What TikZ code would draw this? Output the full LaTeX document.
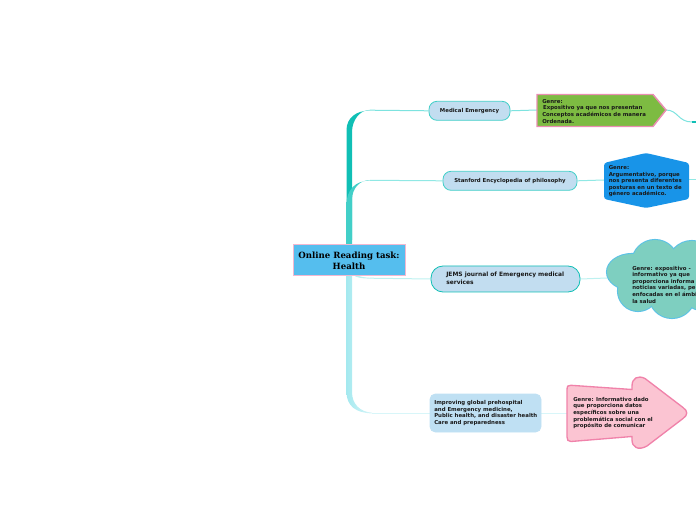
\documentclass[tikz,border=0pt]{standalone}
\usepackage{fontspec}
\setsansfont{DejaVu Sans}
\setmainfont{DejaVu Serif}
\usetikzlibrary{backgrounds,calc}
\tikzset{
  x=0.75pt,y=-0.75pt,
  txt/.style={font=\sffamily\bfseries\fontsize{4.05}{4.95}\selectfont,align=left,anchor=west,inner sep=0,text=black!90},
  txtb/.style={font=\sffamily\bfseries\fontsize{4.45}{6.4}\selectfont,align=left,anchor=west,inner sep=0,text=black!90},
  topic/.style={rounded corners=6pt,draw,line width=.6pt,fill=capfill,minimum height=14.25pt,inner sep=0,font=\sffamily\bfseries\fontsize{4.05}{5.25}\selectfont,text=black!90},
  link/.style={line width=.75pt},
}
\definecolor{capfill}{HTML}{C2DDF0}
\definecolor{impfill}{HTML}{BFE0F3}
\definecolor{rootfill}{HTML}{55BEEE}
\definecolor{rootline}{HTML}{F2B8D0}
\definecolor{tealA}{HTML}{10BFB5}
\definecolor{tealB}{HTML}{42CFC8}
\definecolor{tealC}{HTML}{A5E9EF}
\definecolor{lineA}{HTML}{7DE3DF}
\definecolor{lineB}{HTML}{90E8E4}
\definecolor{lineC}{HTML}{BDF1F0}
\definecolor{lineD}{HTML}{D8F6F9}
\definecolor{cloudfill}{HTML}{7ECFC0}
\definecolor{cloudline}{HTML}{5CC2E6}
\definecolor{greenfill}{HTML}{7DBB42}
\definecolor{greenline}{HTML}{EA8DB2}
\definecolor{hexfill}{HTML}{1894E8}
\definecolor{pinkfill}{HTML}{FBC4D2}
\definecolor{pinkline}{HTML}{F082AA}
\begin{document}
\begin{tikzpicture}
\useasboundingbox (0,0) rectangle (696,520);
% topic and root nodes
\node[draw=rootline,fill=rootfill,line width=.75pt,minimum width=84pt,minimum height=23.25pt,inner sep=0,align=center,font=\rmfamily\bfseries\fontsize{6.45}{8.4}\selectfont] (root) at (349,260.5) {Online Reading task:\\Health};
\node[topic,draw=tealB,minimum width=60.75pt] (med) at (469.5,110.8) {Medical Emergency};
\node[topic,draw=tealB,minimum width=100.5pt] (sta) at (510,180.8) {Stanford Encyclopedia of philosophy};
\node[topic,draw=tealA,rounded corners=9pt,minimum width=111.75pt,minimum height=19.5pt] (jems) at (505.5,279) {};
\node[txtb] (jemst) at (446,278.5) {JEMS journal of Emergency medical\\services};
\node[topic,draw=impfill,fill=impfill,rounded corners=4pt,minimum width=83.25pt,minimum height=28.5pt] (imp) at (485.5,413) {};
\node[txt] (impt) at (434,413) {Improving global prehospital\\and Emergency medicine,\\Public health, and disaster health\\Care and preparedness};
% genre anchors
\coordinate (gW) at (537,110); \coordinate (gE) at (666,110);
\coordinate (hW) at (604,180); \coordinate (hE) at (689,180);
\coordinate (cW) at (607,278);
\coordinate (aW) at (567,413);
\coordinate (edgeA) at (696,122); \coordinate (edgeB) at (696,180);
% green pentagon
\draw[draw=greenline,fill=greenfill,line width=1.1pt,line join=miter]
  (537,94.5) -- (653,94.5) -- (gE) -- (653,126.5) -- (537,126.5) -- cycle;
\node[txt] (gt) at (542,111.3) {Genre:\\ \,Expositivo ya que nos presentan\\Conceptos académicos de manera\\Ordenada.};
% blue hexagon
\draw[draw=none,fill=hexfill,line join=round,rounded corners=2pt]
  (604,163) -- (646,153) -- (689,163) -- (689,199) -- (646,208) -- (604,199) -- cycle;
\node[txt] (ht) at (608.5,181.3) {Genre:\\Argumentativo, porque\\nos presenta diferentes\\posturas en un texto de\\género académico.};
% cloud
\foreach \x/\y/\a/\b in {632/272/25/18,638/291/20/20,655/263/23/23,692/265/24/24,672/295/23/23,702/290/20/20}{\fill[cloudline] (\x,\y) ellipse[x radius=\a*0.75pt+0.8pt,y radius=\b*0.75pt+0.8pt];}
\foreach \x/\y/\a/\b in {632/272/25/18,638/291/20/20,655/263/23/23,692/265/24/24,672/295/23/23,702/290/20/20}{\fill[cloudfill] (\x,\y) ellipse[x radius=\a*0.75pt,y radius=\b*0.75pt];}
\fill[cloudfill] (630,260) rectangle (696,300);
\node[txt] (ct) at (632,284.5) {Genre: expositivo -\\informativo ya que\\proporciona informa\\noticias variadas, pe\\enfocadas en el ámbi\\la salud};
% pink arrow
\draw[draw=pinkline,fill=pinkfill,line width=1pt]
  (567,390) .. controls (567,386) and (568,385) .. (571,385.3) -- (632,389.5) -- (632,386)
  .. controls (632,378) and (638,375) .. (645,378.5) -- (683,407.5)
  .. controls (688,411) and (688,415) .. (683,418.5) -- (647,446)
  .. controls (638,451) and (632,447) .. (632,440) -- (632,436.5) -- (571,441.5)
  .. controls (568,441.5) and (567,440) .. (567,437) -- cycle;
\node[txt] (at) at (573,413) {Genre: Informativo dado\\que proporciona datos\\específicos sobre una\\problemática social con el\\propósito de comunicar};
\begin{scope}[on background layer]
  % tapered branches from the root
  \shade[left color=tealC,right color=lineD] (346.5,276) -- (346.5,392) .. controls (346.5,406) and (356,413) .. (372,413.4) -- (372,412.6) .. controls (360,412) and (352,404) .. (352,392) -- (352,276) -- cycle;
  \fill[lineC] (353,275) .. controls (357,278) and (362,278.4) .. (370,278.6) -- (370,277.8) .. controls (365,277.5) and (360,277) .. (357,275) -- cycle;
  \shade[left color=tealA,right color=lineA,middle color=tealA] (346.5,240) -- (346.5,130) .. controls (346.5,118) and (356,110.5) .. (370,110.5) -- (370,109.8) .. controls (360,110) and (352,120) .. (352,132) -- (352,240) -- cycle;
  \shade[left color=tealB,right color=lineB,middle color=tealB] (346.5,245) -- (346.5,205) .. controls (346.5,190) and (355,180.6) .. (370,180.6) -- (370,180) .. controls (360,180) and (352,188) .. (352,200) -- (352,245) -- cycle;
  % connectors
  \draw[link,lineA] (370,110.2) -- (med.west);
  \draw[link,lineB] (370,180.3) -- (sta.west);
  \draw[link,lineC] (370,278.2) -- (jems.west);
  \draw[link,lineD] (372,413) -- (imp.west);
  \draw[link,lineA] (med.east) -- (gW);
  \draw[link,lineB] (sta.east) -- (hW);
  \draw[link,lineC] (jems.east) -- (cW);
  \draw[link,lineD] (imp.east) -- (aW);
  \draw[link,lineA] (gE) .. controls (678,110) and (678,122) .. (692,122);
  \draw[line width=1.5pt,tealA] (692,122.5) -- (edgeA|-0,122.5);
  \draw[link,lineB] (hE) -- (edgeB);
\end{scope}
\end{tikzpicture}
\end{document}
